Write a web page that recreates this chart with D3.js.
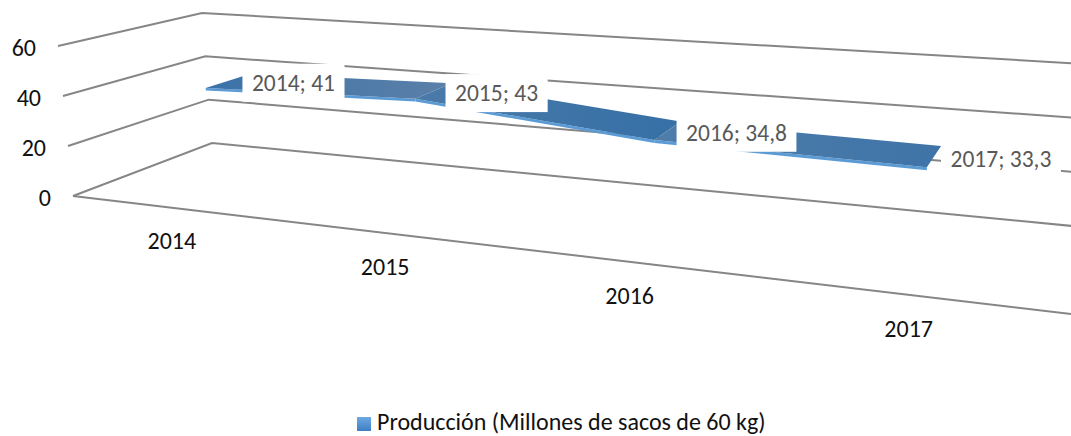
<!doctype html>
<head>
  <meta charset="utf-8">
  <script src="https://cdnjs.cloudflare.com/ajax/libs/d3/7.8.2/d3.min.js"></script>
</head>
<style>
    html, body { margin: 0; background: #fff; overflow: hidden; }
    text { font-family: Carlito, Lato, "Open Sans", sans-serif; }
</style>
<body>
    <div id="chart"></div>
    <script>
        // Datos
        const years = ['2014', '2015', '2016', '2017'];
        const production = [41, 43, 34.8, 33.3];
        const valueTicks = [0, 20, 40, 60];
        const seriesName = 'Producción (Millones de sacos de 60 kg)';

        const width = 1071, height = 436;

        // Esquinas de la caja 3D en pixeles, cada una con su escala de valor
        const corner = (x0, x60, y0, y60) => ({
            x: d3.scaleLinear().domain([0, 60]).range([x0, x60]),
            y: d3.scaleLinear().domain([0, 60]).range([y0, y60]),
        });
        const frontLeft = corner(73, 58, 196, 46);
        const backLeft = corner(212, 202, 143, 13);
        const frontRight = corner(1071, 1071, 314, 110);
        const backRight = corner(1093, 1093, 228, 64.4);

        const band = d3.scaleBand().domain(years).range([0, 1]);
        const lerp = d3.interpolateNumber;

        // perspectiva: las categorias de la derecha se ven mas anchas
        const warp = (u) => u / (u + (1 - u) * 1.3);

        function project(year, value, depth) {
            const t = warp(band(year) + band.bandwidth() / 2);
            const side = (a, b, axis) => lerp(a[axis](value), b[axis](value))(depth);
            return [
                lerp(side(frontLeft, backLeft, 'x'), side(frontRight, backRight, 'x'))(t),
                lerp(side(frontLeft, backLeft, 'y'), side(frontRight, backRight, 'y'))(t),
            ];
        }

        const svg = d3.select('#chart').append('svg')
            .attr('width', width)
            .attr('height', height);

        const defs = svg.append('defs');
        const addGradient = (id, from, to, vertical) => {
            const g = defs.append('linearGradient').attr('id', id)
                .attr('x2', vertical ? 0 : 1).attr('y2', vertical ? 1 : 0);
            g.append('stop').attr('offset', 0).attr('stop-color', from);
            g.append('stop').attr('offset', 1).attr('stop-color', to);
        };
        addGradient('seg0', '#3a72a8', '#5c80a8');
        addGradient('seg1', '#4a7aa9', '#3570a6');
        addGradient('seg2', '#4f7daa', '#3f74a8');
        addGradient('swatch', '#6fa8e2', '#3d7fc4', true);

        // Rejilla
        const line = d3.line();
        const grid = svg.append('g').attr('fill', 'none').attr('stroke', '#868686').attr('stroke-width', 2);
        valueTicks.forEach((v) => {
            const pts = [
                [frontLeft.x(v), frontLeft.y(v)],
                [backLeft.x(v), backLeft.y(v)],
                [backRight.x(v), backRight.y(v)],
            ];
            grid.append('path').attr('d', line(pts));
        });
        grid.append('path').attr('d', line([
            [frontLeft.x(0), frontLeft.y(0)],
            [frontRight.x(0), frontRight.y(0)],
        ]));

        // Eje de valores
        svg.append('g').selectAll('text').data(valueTicks).join('text')
            .attr('x', (v) => frontLeft.x(v) - 22)
            .attr('y', (v) => frontLeft.y(v) + 1)
            .attr('text-anchor', 'end')
            .attr('dominant-baseline', 'central')
            .attr('font-size', 24)
            .attr('fill', '#111')
            .text((v) => v);

        // Eje de categorias
        const yearNudge = [0, -3, -4, -6];
        svg.append('g').selectAll('text').data(years).join('text')
            .attr('x', (y, i) => project(y, 0, 0)[0] + yearNudge[i])
            .attr('y', (y) => project(y, 0, 0)[1] + 33)
            .attr('text-anchor', 'middle')
            .attr('dominant-baseline', 'central')
            .attr('font-size', 24)
            .attr('fill', '#111')
            .text((y) => y);

        // Cinta 3D
        const depthFront = 0.33, depthBack = 0.68, thickness = 1;
        const ribbon = svg.append('g');
        d3.pairs(years.map((y, i) => ({ y, v: production[i] }))).forEach(([a, b], i) => {
            ribbon.append('path')
                .attr('d', line([
                    project(a.y, a.v, depthFront),
                    project(b.y, b.v, depthFront),
                    project(b.y, b.v - thickness, depthFront),
                    project(a.y, a.v - thickness, depthFront),
                ]) + 'Z')
                .attr('fill', '#5b9bd5');
            ribbon.append('path')
                .attr('d', line([
                    project(a.y, a.v, depthFront),
                    project(a.y, a.v, depthBack),
                    project(b.y, b.v, depthBack),
                    project(b.y, b.v, depthFront),
                ]) + 'Z')
                .attr('fill', `url(#seg${i})`);
        });

        // Etiquetas de datos con fondo blanco
        const labelShift = [65, 63, 69, 67];
        const labels = svg.append('g');
        years.forEach((y, i) => {
            const f = project(y, production[i], depthFront);
            const b = project(y, production[i], depthBack);
            const cx = (f[0] + b[0]) / 2 + labelShift[i];
            const cy = (f[1] + b[1]) / 2 + 2;
            const box = labels.append('rect').attr('fill', '#fff');
            const txt = labels.append('text')
                .attr('x', cx).attr('y', cy)
                .attr('text-anchor', 'middle')
                .attr('dominant-baseline', 'central')
                .attr('font-size', 23.5)
                .attr('fill', '#595959')
                .text(`${y}; ${String(production[i]).replace('.', ',')}`);
            const w = txt.node().getBBox().width + 19;
            box.attr('x', cx - w / 2).attr('y', cy - 19).attr('width', w).attr('height', 38);
        });

        // Leyenda
        const legend = svg.append('g');
        legend.append('rect')
            .attr('x', 357).attr('y', 417).attr('width', 14).attr('height', 14)
            .attr('fill', 'url(#swatch)');
        legend.append('text')
            .attr('x', 377).attr('y', 421)
            .attr('dominant-baseline', 'central')
            .attr('font-size', 24)
            .attr('fill', '#111')
            .text(seriesName);
    </script>
</body>
